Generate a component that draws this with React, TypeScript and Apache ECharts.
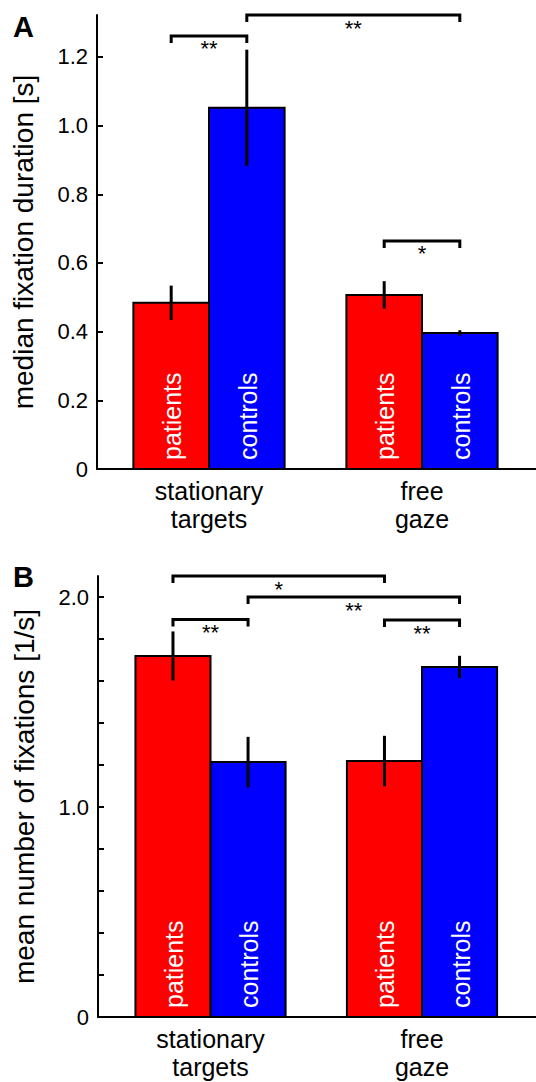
import React, { useEffect, useRef } from "react";
import * as echarts from "echarts";

const FONT = "'Liberation Sans', Arial, Helvetica, sans-serif";

// categories (x positions 1 and 2)
const groupNames = ["stationary\ntargets", "free\ngaze"];
const groupPos = [1, 2];
const sideNames = ["patients", "controls"];
const sideColors = ["#ff0000", "#0000ff"];

// Panel A: median fixation duration [s]
const patientsA = [0.484, 0.507];
const patientsAErr = [0.05, 0.04];
const controlsA = [1.052, 0.396];
const controlsAErr = [0.169, 0.008];

// Panel B: mean number of fixations [1/s]
const patientsB = [1.719, 1.219];
const patientsBErr = [0.117, 0.12];
const controlsB = [1.214, 1.667];
const controlsBErr = [0.12, 0.053];

// significance brackets: [group1, side1, group2, side2, y]
const bracketsA = [
  [1, 0, 1, 1, 1.261],
  [1, 1, 2, 1, 1.322],
  [2, 0, 2, 1, 0.664],
];
const bracketStarsA = ["**", "**", "*"];
const bracketsB = [
  [1, 0, 2, 0, 2.1],
  [1, 1, 2, 1, 2.0],
  [1, 0, 1, 1, 1.893],
  [2, 0, 2, 1, 1.89],
];
const bracketStarsB = ["*", "**", "**", "**"];

// axis ticks
const ticksA = [0, 0.2, 0.4, 0.6, 0.8, 1.0, 1.2];
const ticksB = [0, 0.2, 0.4, 0.6, 0.8, 1.0, 1.2, 1.4, 1.6, 1.8, 2.0];
const labelsB = [0, 1, 2];

const BAR_W = 0.355;

function sideX(g: number, side: number) {
  return g + (side === 0 ? -BAR_W / 2 : BAR_W / 2);
}

function barSeries(values: number[], errs: number[], side: number, axisIdx: number) {
  return {
    type: "custom",
    xAxisIndex: axisIdx,
    yAxisIndex: axisIdx,
    clip: false,
    data: values.map((v, i) => [groupPos[i], v, errs[i]]),
    renderItem: (params: any, api: any) => {
      const g = api.value(0);
      const v = api.value(1);
      const e = api.value(2);
      const xa = side === 0 ? g - BAR_W : g;
      const xb = side === 0 ? g : g + BAR_W;
      const p0 = api.coord([xa, v]);
      const p1 = api.coord([xb, 0]);
      const cx = api.coord([sideX(g, side), 0])[0];
      const et = api.coord([sideX(g, side), v + e])[1];
      const eb = api.coord([sideX(g, side), v - e])[1];
      return {
        type: "group",
        children: [
          {
            type: "rect",
            shape: { x: p0[0], y: p0[1], width: p1[0] - p0[0], height: p1[1] - p0[1] },
            style: { fill: sideColors[side], stroke: "#000", lineWidth: 2 },
          },
          {
            type: "line",
            shape: { x1: cx, y1: et, x2: cx, y2: eb },
            style: { stroke: "#000", lineWidth: 3 },
          },
          {
            type: "text",
            x: cx + 1,
            y: p1[1] - 9,
            rotation: Math.PI / 2,
            style: {
              text: sideNames[side],
              fill: "#fff",
              fontSize: 25,
              fontFamily: FONT,
              align: "left",
              verticalAlign: "middle",
            },
          },
        ],
      };
    },
  };
}

function bracketSeries(brackets: number[][], stars: string[], axisIdx: number) {
  return {
    type: "custom",
    xAxisIndex: axisIdx,
    yAxisIndex: axisIdx,
    clip: false,
    data: brackets.map((b) => [sideX(b[0], b[1]), sideX(b[2], b[3]), b[4]]),
    renderItem: (params: any, api: any) => {
      const a = api.coord([api.value(0), api.value(2)]);
      const b = api.coord([api.value(1), api.value(2)]);
      const leg = 7;
      return {
        type: "group",
        children: [
          {
            type: "polyline",
            shape: {
              points: [
                [a[0], a[1] + leg],
                [a[0], a[1]],
                [b[0], b[1]],
                [b[0], b[1] + leg],
              ],
            },
            style: { stroke: "#000", lineWidth: 3, fill: "none", lineJoin: "miter" },
          },
          {
            type: "text",
            x: (a[0] + b[0]) / 2,
            y: a[1] + 2,
            style: {
              text: stars[params.dataIndex],
              fill: "#000",
              fontSize: 22,
              fontFamily: FONT,
              align: "center",
              verticalAlign: "top",
            },
          },
        ],
      };
    },
  };
}

function xAxisCfg(gridIndex: number, min: number, max: number) {
  return {
    type: "value",
    gridIndex,
    min,
    max,
    axisLine: { show: true, lineStyle: { color: "#000", width: 2 } },
    axisTick: { show: false },
    splitLine: { show: false },
    axisLabel: {
      customValues: groupPos,
      formatter: (v: number) => groupNames[groupPos.indexOf(Math.round(v))] || "",
      color: "#000",
      fontSize: 25,
      lineHeight: 28,
      fontFamily: FONT,
      margin: 8,
    },
  };
}

function yAxisCfg(gridIndex: number, max: number, name: string, ticks: number[], labels: number[]) {
  return {
    type: "value",
    gridIndex,
    min: 0,
    max,
    name,
    nameLocation: "middle",
    nameGap: 60,
    nameRotate: 90,
    nameTextStyle: { color: "#000", fontSize: 28, fontFamily: FONT },
    axisLine: { show: true, lineStyle: { color: "#000", width: 2 } },
    axisTick: {
      show: true,
      inside: true,
      length: 6,
      customValues: ticks,
      lineStyle: { color: "#000", width: 2 },
    },
    splitLine: { show: false },
    axisLabel: {
      customValues: labels,
      formatter: (v: number) => (Math.abs(v) < 1e-9 ? "0" : v.toFixed(1)),
      color: "#000",
      fontSize: 22,
      fontFamily: FONT,
      margin: 9,
    },
  };
}

export default function App() {
  const ref = useRef<HTMLDivElement>(null);
  useEffect(() => {
    document.body.style.margin = "0";
    const chart = echarts.init(ref.current!, null, { renderer: "svg" });
    chart.setOption({
      animation: false,
      backgroundColor: "#fff",
      grid: [
        { left: 97, top: 15, width: 439, height: 454 },
        { left: 98, top: 576, width: 438, height: 441 },
      ],
      xAxis: [xAxisCfg(0, 0.4742, 2.5352), xAxisCfg(1, 0.468, 2.539)],
      yAxis: [
        yAxisCfg(0, 1.322, "median fixation duration [s]", ticksA, ticksA),
        yAxisCfg(1, 2.1, "mean number of fixations [1/s]", ticksB, labelsB),
      ],
      graphic: [
        {
          type: "text",
          left: 13,
          top: 12,
          style: { text: "A", fontSize: 29, fontWeight: "bold", fontFamily: FONT, fill: "#000" },
        },
        {
          type: "text",
          left: 13,
          top: 562,
          style: { text: "B", fontSize: 29, fontWeight: "bold", fontFamily: FONT, fill: "#000" },
        },
      ],
      series: [
        barSeries(patientsA, patientsAErr, 0, 0),
        barSeries(controlsA, controlsAErr, 1, 0),
        bracketSeries(bracketsA, bracketStarsA, 0),
        barSeries(patientsB, patientsBErr, 0, 1),
        barSeries(controlsB, controlsBErr, 1, 1),
        bracketSeries(bracketsB, bracketStarsB, 1),
      ],
    });
    return () => chart.dispose();
  }, []);
  return <div ref={ref} style={{ width: 536, height: 1082 }} />;
}
